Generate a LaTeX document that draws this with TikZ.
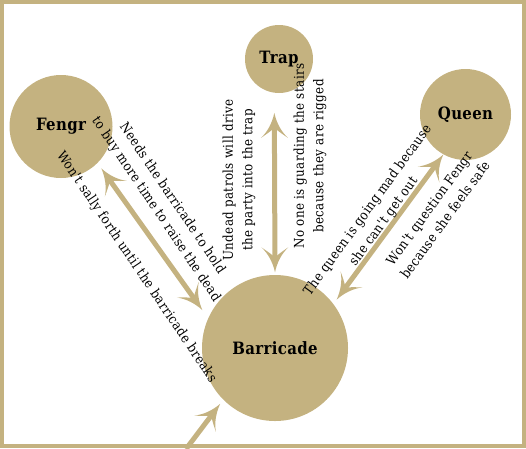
\documentclass[tikz,border=0pt]{standalone}
\usepackage{fontspec}
\setmainfont{DejaVu Serif}
\newfontfamily\lblfont[FakeStretch=0.88,LetterSpace=3]{DejaVu Serif}
\newfontfamily\nodefont[FakeStretch=0.88,LetterSpace=2]{DejaVu Serif}
\usetikzlibrary{arrows.meta}
\definecolor{tan}{RGB}{196,178,128}
\pgfdeclarearrow{
  name = Swept,
  parameters = {\the\pgfarrowlength,\the\pgfarrowwidth},
  setup code = {
    \pgfarrowssettipend{0pt}
    \pgfarrowssetbackend{-\pgfarrowlength}
    \pgfarrowssetlineend{-.5\pgfarrowlength}
    \pgfarrowssavethe\pgfarrowlength
    \pgfarrowssavethe\pgfarrowwidth
  },
  drawing code = {
    \pgfpathmoveto{\pgfqpoint{0pt}{0pt}}
    \pgfpathcurveto{\pgfpoint{-.4\pgfarrowlength}{.08\pgfarrowwidth}}{\pgfpoint{-.75\pgfarrowlength}{.25\pgfarrowwidth}}{\pgfpoint{-\pgfarrowlength}{.5\pgfarrowwidth}}
    \pgfpathcurveto{\pgfpoint{-.8\pgfarrowlength}{.22\pgfarrowwidth}}{\pgfpoint{-.65\pgfarrowlength}{.05\pgfarrowwidth}}{\pgfpoint{-.6\pgfarrowlength}{0pt}}
    \pgfpathcurveto{\pgfpoint{-.65\pgfarrowlength}{-.05\pgfarrowwidth}}{\pgfpoint{-.8\pgfarrowlength}{-.22\pgfarrowwidth}}{\pgfpoint{-\pgfarrowlength}{-.5\pgfarrowwidth}}
    \pgfpathcurveto{\pgfpoint{-.75\pgfarrowlength}{-.25\pgfarrowwidth}}{\pgfpoint{-.4\pgfarrowlength}{-.08\pgfarrowwidth}}{\pgfqpoint{0pt}{0pt}}
    \pgfpathclose
    \pgfusepathqfill
  },
  defaults = {length=25pt, width=27pt}
}
\begin{document}
\begin{tikzpicture}[x=1pt,y=-1pt,
  every node/.style={inner sep=0pt},
  circ/.style={circle, fill=tan, minimum size=#1, inner sep=0pt, text=black,
    font=\nodefont\bfseries\fontsize{17}{19}\selectfont},
  lbl/.style={font=\lblfont\fontsize{13.5}{19.5}\selectfont, align=center, text=black},
  link/.style={line width=5pt, draw=tan, {Swept}-{Swept}},
  onelink/.style={line width=5pt, draw=tan, -{Swept}},
]
\useasboundingbox (0,0) rectangle (526,448);
\node[circ=103pt] (fengr) at (61,126.5) {Fengr};
\node[circ=68pt] (trap) at (279,59) {Trap};
\node[circ=91pt] (queen) at (465.5,114.5) {Queen};
\node[circ=146pt] (barr) at (275,348) {Barricade};
\coordinate (src) at (186,449);

\draw[link, shorten <=6.5pt, shorten >=10pt] (fengr.-45.6) -- (barr.156.5);
\draw[link, shorten <=20pt, shorten >=2.5pt] (trap.-98.5) -- (barr.90.8);
\draw[link, shorten <=5.4pt] (barr.37.7) -- (queen.-119);
\draw[onelink, shorten >=5pt] (src) -- (barr.-135);

\node[lbl, rotate=-56] (l1) at (164,204) {Needs the barricade to hold\\to buy more time to raise the dead};
\node[lbl, rotate=-56] (l2) at (136.5,267) {Won't sally forth until the barricade breaks};
\node[lbl, rotate=90] (l3) at (239,180) {Undead patrols will drive\\the party into the trap};
\node[lbl, rotate=90] (l4) at (310,156) {No one is guarding the stairs\\because they are rigged};
\node[lbl, rotate=54] (l5) at (376,216) {The queen is going mad because\\she can't get out};
\node[lbl, rotate=54] (l6) at (437,214) {Won't question Fengr\\because she feels safe};

\draw[tan, line width=4pt] (2,2) rectangle (524,446);
\end{tikzpicture}
\end{document}
